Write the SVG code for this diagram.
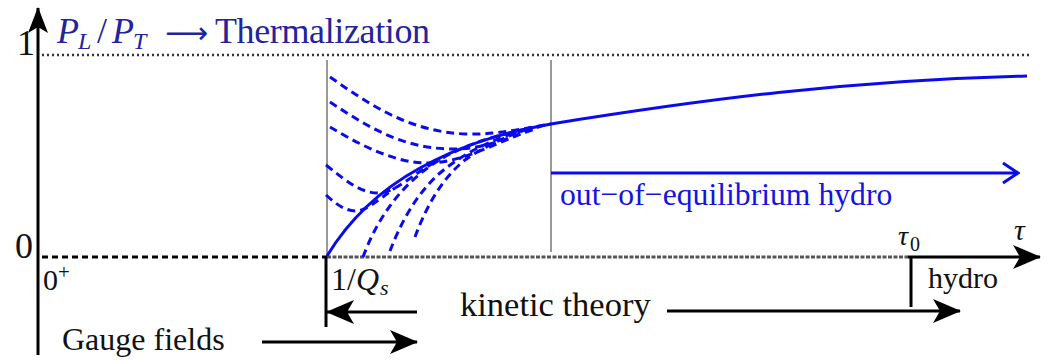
<svg xmlns="http://www.w3.org/2000/svg" width="1051" height="361" viewBox="0 0 1051 361">
<defs>
<style>
text{font-family:"Liberation Serif","Times New Roman",serif;}
.lbl{fill:#111;}
.ax{stroke:#000;stroke-width:3;fill:none;}
.guide{stroke:#777;stroke-width:1.5;fill:none;}
.sol{stroke:#0a0aee;stroke-width:3;fill:none;}
.dsh{stroke:#0a0aee;stroke-width:3;fill:none;stroke-dasharray:8 5;}
.it{font-style:italic;}
</style>
<marker id="stealth" viewBox="0 0 28 24" refX="27" refY="12" markerWidth="28" markerHeight="24" markerUnits="userSpaceOnUse" orient="auto">
<path d="M0,0 L28,12 L0,24 L7,12 Z" fill="#000"/>
</marker>
<marker id="stealthY" viewBox="0 0 26 20" refX="25" refY="10" markerWidth="26" markerHeight="20" markerUnits="userSpaceOnUse" orient="auto">
<path d="M0,0 L26,10 L0,20 L6,10 Z" fill="#000"/>
</marker>
<marker id="openblue" viewBox="0 0 18 24" refX="16" refY="12" markerWidth="18" markerHeight="24" markerUnits="userSpaceOnUse" orient="auto">
<path d="M1,2 L16,12 L1,22" fill="none" stroke="#0a0aee" stroke-width="3"/>
</marker>
</defs>

<g id="guides">
<line x1="42" y1="55" x2="1032" y2="55" stroke="#333" stroke-width="2.5" stroke-dasharray="2 3"/>
<line class="guide" x1="327" y1="60" x2="327" y2="257"/>
<line class="guide" x1="551" y1="60" x2="551" y2="252"/>
</g>

<g id="axes">
<line class="ax" x1="38" y1="355" x2="38" y2="8" marker-end="url(#stealthY)"/>
<line x1="42" y1="257" x2="327" y2="257" stroke="#000" stroke-width="3" stroke-dasharray="6 4"/>
<line x1="327" y1="257" x2="908" y2="257" stroke="#555" stroke-width="3" stroke-dasharray="4 1.5"/>
<line class="ax" x1="908" y1="257" x2="1040" y2="257" marker-end="url(#stealth)"/>
<line class="ax" x1="326" y1="257" x2="326" y2="327"/>
<line class="ax" x1="911" y1="257" x2="911" y2="307"/>
</g>

<g id="curves">
<path class="sol" d="M327,256 C350,218 380,190 420,168 C460,146 500,133 551,124 C700,100 850,80 1027,76"/>
<path class="dsh" d="M330,77 C370,105 410,132 466,134 C500,135 530,127 551,124"/>
<path class="dsh" d="M330,102 C365,125 400,148 450,149 C490,150 520,132 545,125"/>
<path class="dsh" d="M330,127 C360,145 395,163 427,163 C465,163 500,140 535,129"/>
<path class="dsh" d="M326,165 C345,180 360,193 378,193 C395,193 410,176 440,159"/>
<path class="dsh" d="M326,195 C337,205 346,211 356,211 C366,211 378,200 395,188"/>
<path class="dsh" d="M363,257 C375,225 395,190 433,164 C460,146 490,137 530,128"/>
<path class="dsh" d="M390,251 C400,225 415,195 440,173 C465,152 495,138 525,130"/>
<path class="dsh" d="M415,237 C425,210 440,180 465,160 C485,146 505,137 530,128"/>
</g>

<g id="connectors">
<line x1="551" y1="173" x2="1018" y2="173" stroke="#0a0aee" stroke-width="3" marker-end="url(#openblue)"/>
<line class="ax" x1="417" y1="312" x2="327" y2="312" marker-end="url(#stealth)"/>
<line class="ax" x1="262" y1="342" x2="417" y2="342" marker-end="url(#stealth)"/>
<line class="ax" x1="667" y1="311" x2="960" y2="311" marker-end="url(#stealth)"/>
</g>

<g id="title">
<text x="57" y="43" font-size="36" fill="#23239c"><tspan class="it">P</tspan><tspan class="it" font-size="24" x="78" y="49">L</tspan><tspan x="97" y="43">/</tspan><tspan class="it" x="112">P</tspan><tspan class="it" font-size="24" x="133" y="49">T</tspan><tspan x="165" y="43" font-family="DejaVu Sans" font-size="30">⟶</tspan><tspan x="215" y="43" textLength="215">Thermalization</tspan></text>
</g>

<g id="labels">
<text class="lbl" x="17" y="55" font-size="36">1</text>
<text class="lbl" x="15" y="258" font-size="36">0</text>
<text class="lbl" x="43" y="290" font-size="30">0<tspan x="58" y="279" font-size="21">+</tspan></text>
<text class="lbl" x="331" y="290" font-size="32">1/<tspan class="it">Q</tspan><tspan class="it" font-size="22" x="380" y="295">s</tspan></text>
<text class="lbl it" x="898" y="245" font-size="28">τ<tspan font-style="normal" font-size="20" x="910" y="251">0</tspan></text>
<text class="lbl it" x="1014" y="240" font-size="30">τ</text>
<text class="lbl" x="928" y="288" font-size="30">hydro</text>
<text class="lbl" x="460" y="316" font-size="34.5">kinetic theory</text>
<text class="lbl" x="62" y="350" font-size="32">Gauge fields</text>
<text x="560" y="205" font-size="31.7" fill="#1414e0">out−of−equilibrium hydro</text>
</g>
</svg>
